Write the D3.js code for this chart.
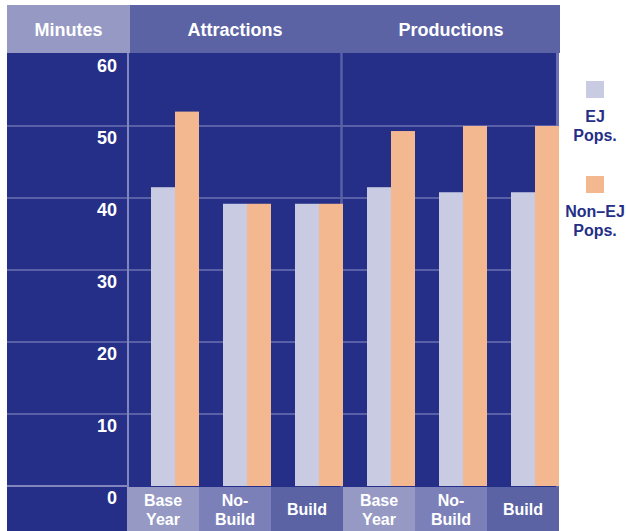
<!DOCTYPE html>
<html>
<head>
<meta charset="utf-8">
<script src="https://cdn.jsdelivr.net/npm/d3@7/dist/d3.min.js"></script>
<style>
  html, body { margin: 0; padding: 0; background: #ffffff; }
  svg { display: block; }
  text { font-family: "Liberation Sans", Arial, Helvetica, sans-serif; font-weight: bold; }
</style>
</head>
<body>
<svg id="chart" width="626" height="531"></svg>
<script>
// Average travel time (minutes) to attractions and from productions
const groups = ["Attractions", "Productions"];
const categories = ["Base Year", "No-Build", "Build"];
const categoryLines = [["Base", "Year"], ["No-", "Build"], ["Build"]];
const attractionsEJ = [41.5, 39.2, 39.2];
const attractionsNonEJ = [52, 39.2, 39.2];
const productionsEJ = [41.5, 40.8, 40.8];
const productionsNonEJ = [49.3, 50, 50];
const yTicks = [0, 10, 20, 30, 40, 50, 60];
const seriesNames = ["EJ Pops.", "Non–EJ Pops."];
const legendLines = [["EJ", "Pops."], ["Non–EJ", "Pops."]];

const C = {
  navy: "#252f87",
  header: "#5c63a5",
  headerLight: "#9599c4",
  cellMid: "#7b80b9",
  grid: "#5960a7",
  axisLine: "#8186be",
  edge: "#6a70b3",
  ej: "#c8cbe2",
  nonEj: "#f4b891"
};
const cellFills = [C.headerLight, C.cellMid, C.header];

const rows = [];
groups.forEach((g, gi) => {
  const ej = gi === 0 ? attractionsEJ : productionsEJ;
  const nonEj = gi === 0 ? attractionsNonEJ : productionsNonEJ;
  categories.forEach((c, ci) => {
    rows.push({ key: g + "|" + c, group: g, cat: c, ci, values: [ej[ci], nonEj[ci]] });
  });
});

const svg = d3.select("#chart");

// layout frame
const frameLeft = 7, axisRight = 127, plotRight = 559, frameTop = 5, headerBottom = 53, bottomBand = 487, frameBottom = 531;

const x = d3.scaleBand().domain(rows.map(d => d.key)).range([axisRight, plotRight]).padding(0);
const xGroup = d3.scaleBand().domain(groups).range([axisRight, plotRight]).padding(0);
const xSeries = d3.scaleBand().domain(seriesNames).range([x.bandwidth() / 3, x.bandwidth()]).padding(0);
const y = d3.scaleLinear().domain([0, 60]).range([486, 54]);

// backgrounds
svg.append("rect").attr("x", frameLeft).attr("y", headerBottom).attr("width", plotRight - frameLeft).attr("height", frameBottom - headerBottom).attr("fill", C.navy);
svg.append("rect").attr("x", frameLeft).attr("y", frameTop).attr("width", 130 - frameLeft).attr("height", headerBottom - frameTop).attr("fill", C.headerLight);
svg.append("rect").attr("x", 130).attr("y", frameTop).attr("width", 560 - 130).attr("height", headerBottom - frameTop).attr("fill", C.header);

// header titles
svg.append("text").attr("x", (frameLeft + 130) / 2).attr("y", 36).attr("text-anchor", "middle")
  .attr("fill", "#ffffff").attr("font-size", 18).text("Minutes");
svg.selectAll(".gtitle").data(groups).join("text")
  .attr("x", d => xGroup(d) + xGroup.bandwidth() / 2).attr("y", 36).attr("text-anchor", "middle")
  .attr("fill", "#ffffff").attr("font-size", 18).text(d => d);

// horizontal gridlines
svg.selectAll(".grid").data(yTicks.filter(t => t > 0 && t < 60)).join("line")
  .attr("x1", frameLeft).attr("x2", plotRight - 2)
  .attr("y1", d => y(d)).attr("y2", d => y(d))
  .attr("stroke", C.grid).attr("stroke-width", 2);
svg.append("line").attr("x1", frameLeft).attr("x2", axisRight).attr("y1", y(0)).attr("y2", y(0))
  .attr("stroke", C.axisLine).attr("stroke-width", 2);

// vertical separators
svg.append("line").attr("x1", 128).attr("x2", 128).attr("y1", headerBottom).attr("y2", bottomBand)
  .attr("stroke", C.axisLine).attr("stroke-width", 2);
svg.append("line").attr("x1", xGroup("Productions") - 1.5).attr("x2", xGroup("Productions") - 1.5)
  .attr("y1", headerBottom).attr("y2", bottomBand).attr("stroke", C.grid).attr("stroke-width", 2.5);
svg.append("line").attr("x1", 557.5).attr("x2", 557.5).attr("y1", headerBottom).attr("y2", bottomBand)
  .attr("stroke", C.edge).attr("stroke-width", 3);

// y tick labels (placed just under each gridline)
svg.selectAll(".ytick").data(yTicks).join("text")
  .attr("x", 117).attr("y", d => y(d) + 18).attr("text-anchor", "end")
  .attr("fill", "#ffffff").attr("font-size", 18).text(d => d);

// bars
const colors = d3.scaleOrdinal().domain(seriesNames).range([C.ej, C.nonEj]);
const cat = svg.selectAll(".cat").data(rows).join("g").attr("transform", d => `translate(${x(d.key)},0)`);
cat.selectAll("rect").data(d => seriesNames.map((s, i) => ({ s, v: d.values[i] }))).join("rect")
  .attr("x", d => xSeries(d.s)).attr("width", xSeries.bandwidth())
  .attr("y", d => y(d.v)).attr("height", d => y(0) - y(d.v))
  .attr("fill", d => colors(d.s));

// category cells along the bottom
cat.append("rect").attr("x", 0).attr("y", bottomBand).attr("width", x.bandwidth()).attr("height", frameBottom - bottomBand)
  .attr("fill", d => cellFills[d.ci]);
cat.each(function (d) {
  const lines = categoryLines[d.ci];
  const g = d3.select(this);
  lines.forEach((ln, i) => {
    g.append("text").attr("x", x.bandwidth() / 2)
      .attr("y", lines.length === 1 ? bottomBand + 28 : bottomBand + 19 + i * 19)
      .attr("text-anchor", "middle").attr("fill", "#ffffff").attr("font-size", 16).text(ln);
  });
});

// legend
const legend = svg.selectAll(".legend").data(seriesNames).join("g")
  .attr("transform", (d, i) => `translate(595,${81 + i * 95})`);
legend.append("rect").attr("x", -9).attr("y", 0).attr("width", 18).attr("height", 17).attr("fill", d => colors(d));
legend.each(function (d, i) {
  const g = d3.select(this);
  legendLines[i].forEach((ln, j) => {
    g.append("text").attr("x", 0).attr("y", 41 + j * 19).attr("text-anchor", "middle")
      .attr("fill", C.navy).attr("font-size", 16).text(ln);
  });
});
</script>
</body>
</html>
